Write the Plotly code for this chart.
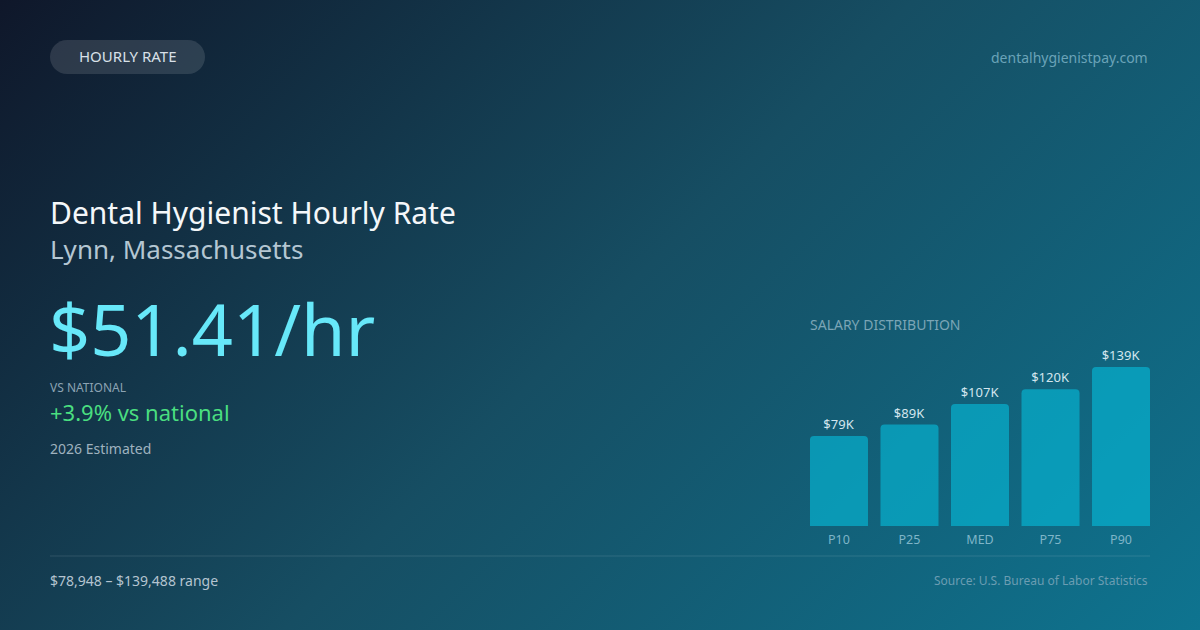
import base64
import plotly.graph_objects as go

# ---- data ----
percentiles = ["P10", "P25", "MED", "P75", "P90"]
salaries = [78948, 89000, 106933, 120000, 139488]
bar_labels = [f"${round(v / 1000)}K" for v in salaries]

hourly_rate = "$51.41/hr"
vs_national = "+3.9% vs national"
range_text = f"${salaries[0]:,} \u2013 ${salaries[-1]:,} range"

W, H = 1200, 630
FONT = "Noto Sans"


def px(x):
    return x / W


def py(y):
    return 1 - y / H


# ---- background gradient (CSS 135deg equivalent) ----
svg = f"""<svg xmlns='http://www.w3.org/2000/svg' width='{W}' height='{H}' viewBox='0 0 {W} {H}' preserveAspectRatio='none'>
<defs><linearGradient id='g' gradientUnits='userSpaceOnUse' x1='142.5' y1='-142.5' x2='1057.5' y2='772.5'>
<stop offset='0' stop-color='#0f172a'/><stop offset='0.5' stop-color='#164e63'/><stop offset='1' stop-color='#0e7490'/>
</linearGradient></defs><rect width='{W}' height='{H}' fill='url(#g)'/></svg>"""
bg_uri = "data:image/svg+xml;base64," + base64.b64encode(svg.encode()).decode()

fig = go.Figure()
fig.add_trace(
    go.Bar(
        x=percentiles,
        y=salaries,
        text=bar_labels,
        textposition="outside",
        cliponaxis=False,
        textfont=dict(family=FONT, size=13, color="#d3e6ee"),
        marker=dict(color="rgba(6,182,212,0.66)", line=dict(width=0)),
        hoverinfo="skip",
    )
)

annotations = []


def txt(x, y, text, size, color, xanchor="left"):
    shift = -2 if xanchor == "left" else 0
    annotations.append(
        dict(
            x=px(x), y=py(y), xref="paper", yref="paper", text=text, showarrow=False,
            xanchor=xanchor, yanchor="middle", xshift=shift, yshift=1,
            font=dict(family=FONT, size=size, color=color),
        )
    )


txt(127.5, 57, "HOURLY RATE", 15, "#d8e0e8", "center")
txt(1150, 58, "dentalhygienistpay.com", 14, "#6aa3b8", "right")
txt(50, 213, "Dental Hygienist Hourly Rate", 30, "#f4f7fa")
txt(50, 250, "Lynn, Massachusetts", 26, "#b4c6d2")
txt(49, 329, hourly_rate, 72, "#67e8f9")
txt(50, 388, "VS NATIONAL", 12, "#8ca3b3")
txt(50, 413, vs_national, 22, "#4ade80")
txt(50, 449, "2026 Estimated", 14, "#9fb2bf")
txt(50, 581, range_text, 14, "#b4c4d0")
txt(1150, 581, "Source: U.S. Bureau of Labor Statistics", 12, "#6b9db2", "right")
txt(810, 325, "SALARY DISTRIBUTION", 14, "#7ba5b6")

# pill shape (pixel-sized path anchored at pill centre)
hw, r = 60.5, 17.0
k = 0.5523 * r
pill = (
    f"M {-hw},{-r} L {hw},{-r} "
    f"C {hw + k},{-r} {hw + r},{-k} {hw + r},0 "
    f"C {hw + r},{k} {hw + k},{r} {hw},{r} "
    f"L {-hw},{r} "
    f"C {-hw - k},{r} {-hw - r},{k} {-hw - r},0 "
    f"C {-hw - r},{-k} {-hw - k},{-r} {-hw},{-r} Z"
)
shapes = [
    dict(
        type="path", xref="paper", yref="paper", xsizemode="pixel", ysizemode="pixel",
        xanchor=px(127.5), yanchor=py(57), path=pill,
        fillcolor="rgba(255,255,255,0.12)", line=dict(width=0), layer="below",
    ),
    dict(
        type="line", xref="paper", yref="paper", x0=px(50), x1=px(1150), y0=py(556), y1=py(556),
        line=dict(color="rgba(255,255,255,0.12)", width=1),
    ),
]

fig.update_layout(
    width=W,
    height=H,
    margin=dict(l=0, r=0, t=0, b=0),
    paper_bgcolor="#123d52",
    plot_bgcolor="rgba(0,0,0,0)",
    showlegend=False,
    bargap=0.177,
    barcornerradius=4,
    images=[
        dict(source=bg_uri, xref="paper", yref="paper", x=0, y=1, sizex=1, sizey=1,
             xanchor="left", yanchor="top", sizing="stretch", layer="below")
    ],
    xaxis=dict(
        domain=[px(810), px(1150)], range=[-0.411, 4.411], showgrid=False, zeroline=False,
        showline=False, ticks="", ticklabelstandoff=4,
        tickfont=dict(family=FONT, size=12.5, color="#7fb5c8"),
        fixedrange=True,
    ),
    yaxis=dict(
        domain=[py(526), py(367)], range=[0, salaries[-1]], visible=False, fixedrange=True,
    ),
    annotations=annotations,
    shapes=shapes,
    font=dict(family=FONT),
)

fig.write_html(
    "out.html",
    config=dict(displayModeBar=False),
    post_script="document.body.style.margin='0';",
)
